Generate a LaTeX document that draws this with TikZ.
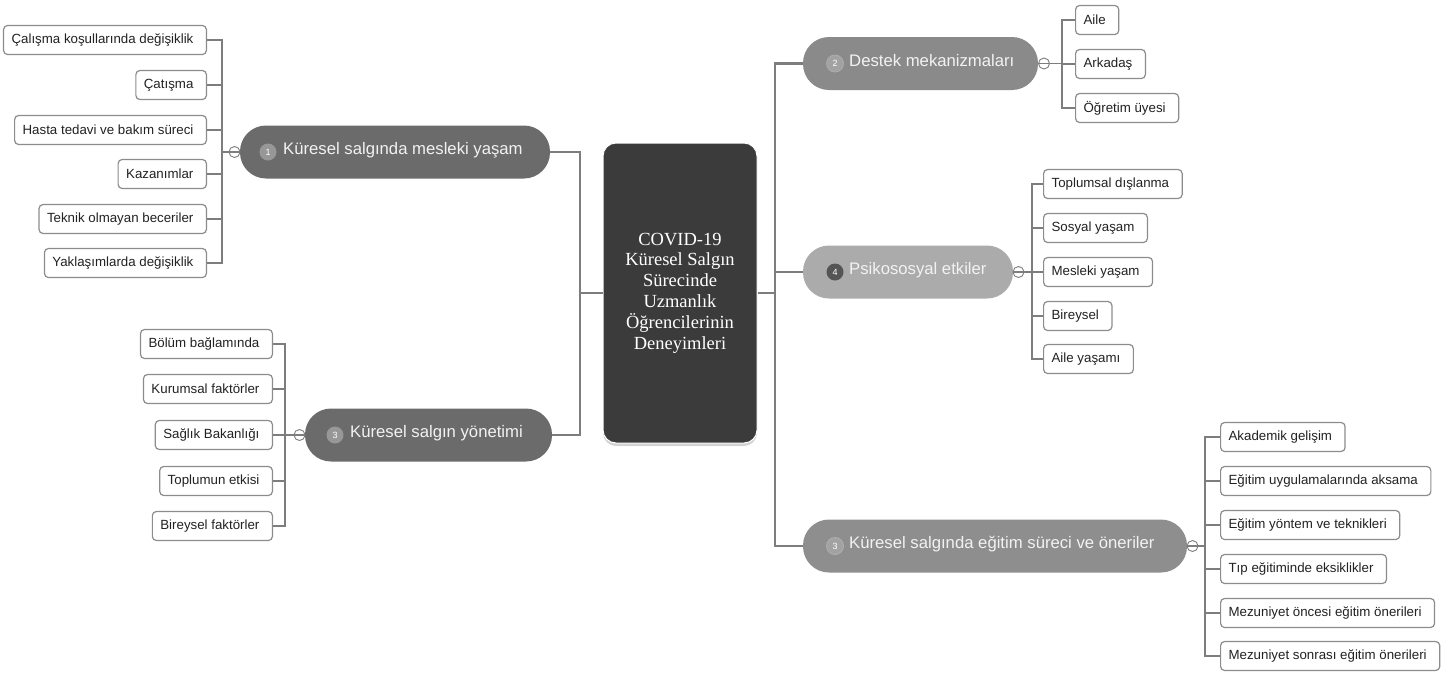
\documentclass[tikz,border=0pt]{standalone}
\usepackage{fontspec}
\setmainfont{Liberation Sans}
\newfontfamily\centerserif{Liberation Serif}
\usetikzlibrary{shadows}
\definecolor{pillA}{HTML}{6B6B6B}
\definecolor{pillB}{HTML}{8A8A8A}
\definecolor{pillC}{HTML}{ABABAB}
\definecolor{pillD}{HTML}{8E8E8E}
\definecolor{badgeA}{HTML}{979797}
\definecolor{badgeB}{HTML}{A2A2A2}
\definecolor{badgeC}{HTML}{555555}
\definecolor{pilltext}{HTML}{F2F2F2}
\definecolor{leafborder}{HTML}{8C8C8C}
\definecolor{leaftext}{HTML}{222222}
\definecolor{linecol}{HTML}{7D7D7D}
\definecolor{centerfill}{HTML}{3B3B3B}
\tikzset{
  pill/.style={rectangle, rounded corners=26pt, minimum height=53pt, inner sep=0pt},
  ptext/.style={anchor=mid west, inner sep=0pt, text=pilltext, font=\fontsize{16.7}{19}\selectfont},
  badge/.style={circle, minimum size=17pt, inner sep=0pt, text=white, font=\fontsize{9}{10}\selectfont},
  leaf/.style={rectangle, draw=leafborder, line width=1.2pt, rounded corners=4pt, fill=white,
    minimum height=29pt, inner xsep=8pt, inner ysep=0pt, text=leaftext,
    font=\fontsize{13.3}{15}\selectfont, execute at end node={\kern5pt}},
  knob/.style={circle, draw=linecol, line width=0.9pt, fill=white, minimum size=11pt, inner sep=0pt},
  trunk/.style={draw=linecol, line width=2.2pt},
  twig/.style={draw=linecol, line width=1.5pt},
  centerbox/.style={rectangle, rounded corners=13pt, fill=centerfill, draw=white, line width=1pt,
    minimum width=154pt, minimum height=300pt, align=center, text=white,
    font=\centerserif\fontsize{18.5}{20.8}\selectfont,
    drop shadow={opacity=0.35, shadow xshift=0pt, shadow yshift=-3pt}},
}
\begin{document}
\begin{tikzpicture}[x=1pt,y=-1pt]
\useasboundingbox (0,0) rectangle (1453,673);

% center
\node[centerbox] (c) at (680,293) {COVID-19\\Küresel Salgın\\Sürecinde\\Uzmanlık\\Öğrencilerinin\\Deneyimleri};

% pills
\node[pill, fill=pillA, minimum width=310pt] (p1) at (395,152) {};
\node[badge, fill=badgeA] (n1) at (268,152) {1};
\node[ptext] (t1) at (283,152) {Küresel salgında mesleki yaşam};

\node[pill, fill=pillA, minimum width=247pt] (p3) at (428.5,435) {};
\node[badge, fill=badgeA] (n3) at (335,435) {3};
\node[ptext] (t3) at (350,435) {Küresel salgın yönetimi};

\node[pill, fill=pillB, minimum width=235pt] (p2) at (920.5,63.5) {};
\node[badge, fill=badgeB, draw=pillB!70!white, line width=0.8pt] (n2) at (835,63.5) {2};
\node[ptext] (t2) at (849,63.5) {Destek mekanizmaları};

\node[pill, fill=pillC, minimum width=210pt] (p4) at (908,272) {};
\node[badge, fill=badgeC] (n4) at (835,272) {4};
\node[ptext] (t4) at (849,272) {Psikososyal etkiler};

\node[pill, fill=pillD, minimum width=384pt] (p5) at (995,546) {};
\node[badge, fill=badgeB, draw=pillD!70!white, line width=0.8pt] (n5) at (835,546) {3};
\node[ptext] (t5) at (849,546) {Küresel salgında eğitim süreci ve öneriler};

% main connectors
\coordinate (lj) at (580,293);
\coordinate (rj) at (775,293);
\draw[trunk] (p1.east) -| (lj) -- (c.west);
\draw[trunk] (p3.east) -| (lj);
\draw[trunk] (c.east) -- (rj) |- (p2.west);
\draw[trunk] (rj) |- (p4.west);
\draw[trunk] (rj) |- (p5.west);

% leaves group 1
\node[leaf, anchor=east] (a1) at (207,40) {Çalışma koşullarında değişiklik};
\node[leaf, anchor=east] (a2) at (207,85) {Çatışma};
\node[leaf, anchor=east] (a3) at (207,130) {Hasta tedavi ve bakım süreci};
\node[leaf, anchor=east] (a4) at (207,174) {Kazanımlar};
\node[leaf, anchor=east] (a5) at (207,219) {Teknik olmayan beceriler};
\node[leaf, anchor=east] (a6) at (207,263) {Yaklaşımlarda değişiklik};
\node[knob] (k1) at (234.5,152) {};
\coordinate (j1) at (222,152);
\draw[twig] (p1.west) -- (j1);
\foreach \n in {a1,a2,a3,a4,a5,a6} \draw[twig] (j1) |- (\n.east);

% leaves group 3
\node[leaf, anchor=east] (b1) at (273,344) {Bölüm bağlamında};
\node[leaf, anchor=east] (b2) at (273,389) {Kurumsal faktörler};
\node[leaf, anchor=east] (b3) at (273,435) {Sağlık Bakanlığı};
\node[leaf, anchor=east] (b4) at (273,481) {Toplumun etkisi};
\node[leaf, anchor=east] (b5) at (273,526) {Bireysel faktörler};
\node[knob] (k3) at (299.5,435) {};
\coordinate (j3) at (285,435);
\draw[twig] (p3.west) -- (j3);
\foreach \n in {b1,b2,b3,b4,b5} \draw[twig] (j3) |- (\n.west -| j3) -- (\n.east);

% leaves group 2
\node[leaf, anchor=west] (d1) at (1075,20) {Aile};
\node[leaf, anchor=west] (d2) at (1075,64) {Arkadaş};
\node[leaf, anchor=west] (d3) at (1075,108) {Öğretim üyesi};
\node[knob] (k2) at (1044,63.5) {};
\coordinate (j2) at (1062,63.5);
\draw[twig] (p2.east) -- (j2);
\foreach \n in {d1,d2,d3} \draw[twig] (j2) |- (\n.west);

% leaves group 4
\node[leaf, anchor=west] (e1) at (1043,184) {Toplumsal dışlanma};
\node[leaf, anchor=west] (e2) at (1043,228) {Sosyal yaşam};
\node[leaf, anchor=west] (e3) at (1043,272) {Mesleki yaşam};
\node[leaf, anchor=west] (e4) at (1043,316) {Bireysel};
\node[leaf, anchor=west] (e5) at (1043,359) {Aile yaşamı};
\node[knob] (k4) at (1018.5,272) {};
\coordinate (j4) at (1032,272);
\draw[twig] (p4.east) -- (j4);
\foreach \n in {e1,e2,e3,e4,e5} \draw[twig] (j4) |- (\n.west);

% leaves group 5
\node[leaf, anchor=west] (f1) at (1220,437) {Akademik gelişim};
\node[leaf, anchor=west] (f2) at (1220,481) {Eğitim uygulamalarında aksama};
\node[leaf, anchor=west] (f3) at (1220,525) {Eğitim yöntem ve teknikleri};
\node[leaf, anchor=west] (f4) at (1220,569) {Tıp eğitiminde eksiklikler};
\node[leaf, anchor=west] (f5) at (1220,613) {Mezuniyet öncesi eğitim önerileri};
\node[leaf, anchor=west] (f6) at (1220,656) {Mezuniyet sonrası eğitim önerileri};
\node[knob] (k5) at (1192.5,546) {};
\coordinate (j5) at (1205,546);
\draw[twig] (p5.east) -- (j5);
\foreach \n in {f1,f2,f3,f4,f5,f6} \draw[twig] (j5) |- (\n.west);
\end{tikzpicture}
\end{document}
